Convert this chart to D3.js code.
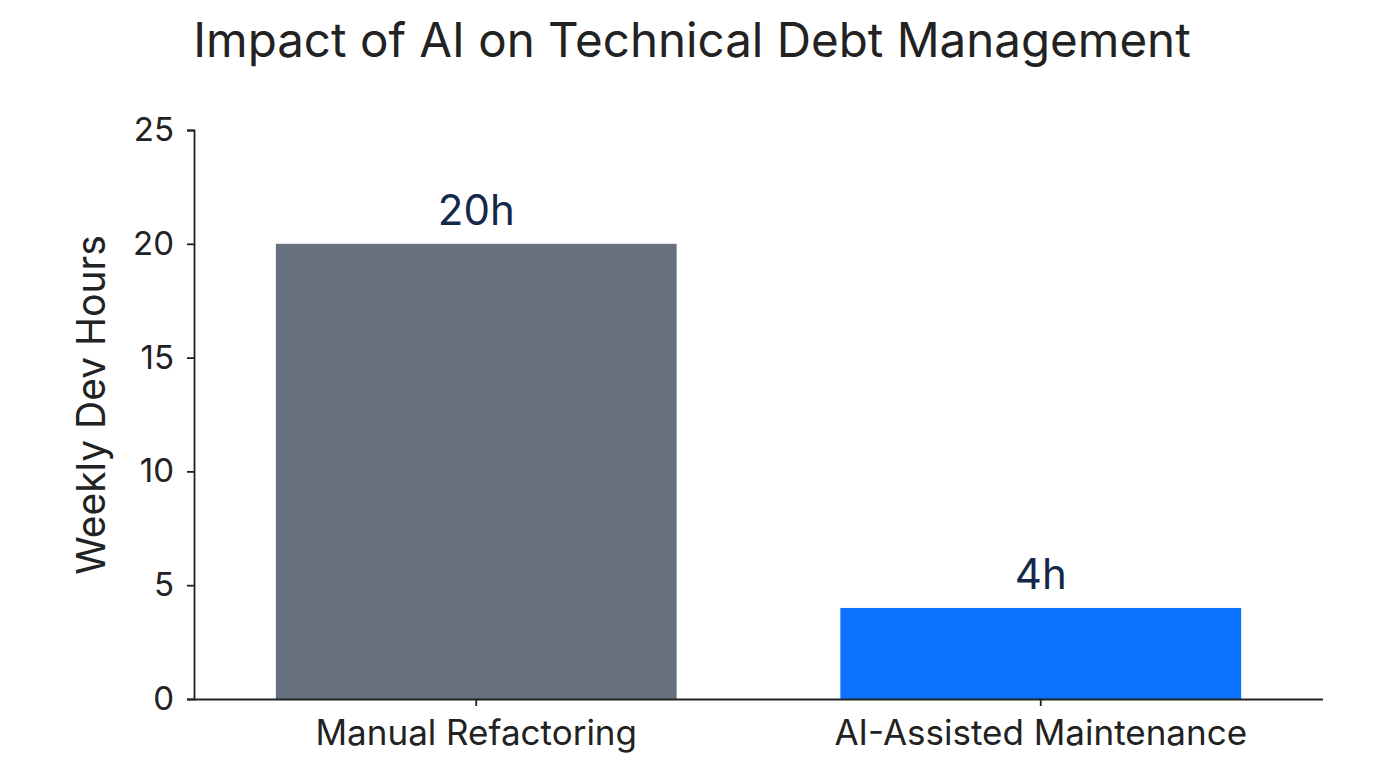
<!DOCTYPE html>
<html><head><meta charset="utf-8">
<script src="https://cdn.jsdelivr.net/npm/d3@7"></script>
<style>body{margin:0;background:#fff;} text{font-family:Inter,"Open Sans",sans-serif;}</style>
</head><body><svg id="c" width="1376" height="768"></svg>
<script>
const categories = ["Manual Refactoring", "AI-Assisted Maintenance"];
const values = [20, 4];
const valueLabels = ["20h", "4h"];
const barColors = ["#67707f", "#0a72fb"];
const yTicks = [0, 5, 10, 15, 20, 25];
const titleText = "Impact of AI on Technical Debt Management";
const yLabel = "Weekly Dev Hours";

const svg = d3.select("#c");
const m = {left:194, right:1323, top:130, bottom:699};
const x = d3.scaleBand().domain(categories).range([m.left, m.right]).paddingInner(0.29).paddingOuter(0.145);
const y = d3.scaleLinear().domain([0,25]).range([m.bottom, m.top]);

svg.append("text").attr("x",692).attr("y",57).attr("text-anchor","middle")
  .attr("font-size",47.5).attr("fill","#222").text(titleText);

svg.selectAll("rect.bar").data(values).enter().append("rect")
  .attr("x",(d,i)=>x(categories[i])).attr("width",x.bandwidth())
  .attr("y",d=>y(d)).attr("height",d=>y(0)-y(d)).attr("fill",(d,i)=>barColors[i]);

svg.selectAll("text.vl").data(values).enter().append("text")
  .attr("x",(d,i)=>x(categories[i])+x.bandwidth()/2).attr("y",d=>y(d)-19)
  .attr("text-anchor","middle").attr("font-size",42).attr("fill","#13294b")
  .text((d,i)=>valueLabels[i]);

const ya = svg.append("g").attr("transform",`translate(${m.left},0)`)
  .call(d3.axisLeft(y).tickValues(yTicks).tickSizeOuter(0).tickSize(7).tickPadding(13));
ya.selectAll("text").attr("font-size",33).attr("fill","#222").attr("font-family","Inter");
ya.selectAll("line,path").attr("stroke","#222").attr("stroke-width",1.8);

const xa = svg.append("g").attr("transform",`translate(0,${m.bottom})`)
  .call(d3.axisBottom(x).tickSizeOuter(0).tickSize(7).tickPadding(10));
xa.select("path.domain").attr("d",`M${m.left},0.5H${m.right}`);
xa.selectAll("text").attr("font-size",35).attr("fill","#222").attr("font-family","Inter")
  .attr("y",46).attr("dy",0);
xa.selectAll("line,path").attr("stroke","#222").attr("stroke-width",1.8);

svg.append("text").attr("transform",`translate(105,405) rotate(-90)`).attr("text-anchor","middle")
  .attr("font-size",39).attr("fill","#222").text(yLabel);
</script></body></html>
